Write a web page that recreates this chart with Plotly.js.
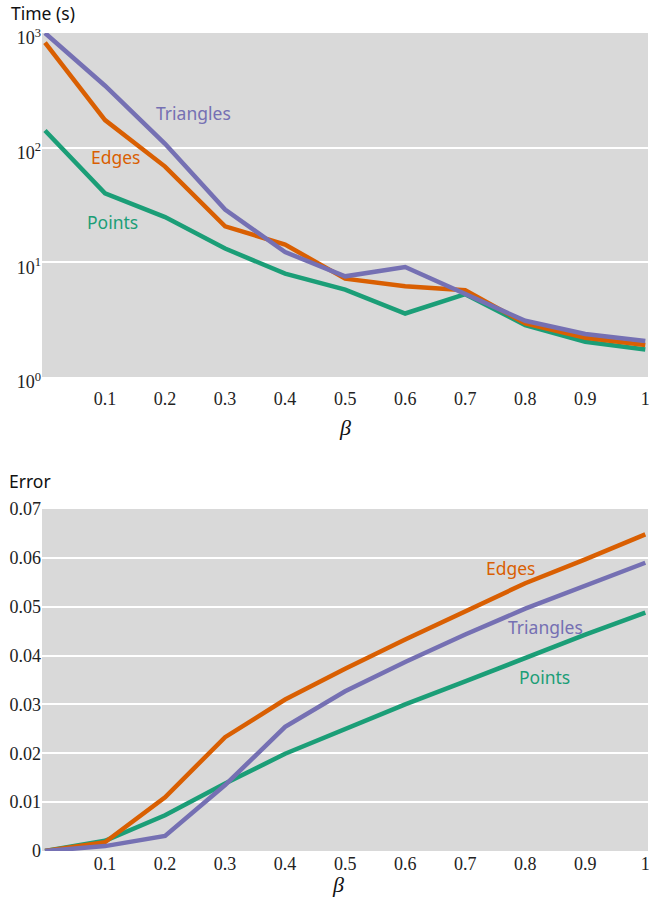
<!DOCTYPE html>
<html>
<head>
<meta charset="utf-8">
<script src="https://cdn.plot.ly/plotly-3.0.1.min.js"></script>
<style>html,body{margin:0;padding:0;background:#fff;}#chart{width:649px;height:901px;}</style>
</head>
<body>
<div id="chart"></div>
<script>
// ---- data ----
const beta = [0, 0.1, 0.2, 0.3, 0.4, 0.5, 0.6, 0.7, 0.8, 0.9, 1.0];

const timePoints    = [141, 40, 24.8, 13.2, 7.97, 5.79, 3.58, 5.27, 2.83, 2.03, 1.74];
const timeEdges     = [824, 174, 68.4, 20.6, 14.3, 7.2, 6.18, 5.71, 2.93, 2.2, 1.9];
const timeTriangles = [1000, 347, 108, 28.9, 12.3, 7.55, 9.1, 5.35, 3.09, 2.37, 2.06];

const errPoints    = [0, 0.0021, 0.0073, 0.0138, 0.0199, 0.025, 0.0300, 0.0347, 0.0396, 0.0443, 0.0488];
const errEdges     = [0, 0.0018, 0.011, 0.0233, 0.031, 0.0373, 0.0433, 0.0490, 0.0548, 0.0597, 0.0648];
const errTriangles = [0, 0.001, 0.0031, 0.0135, 0.0254, 0.0327, 0.0387, 0.0443, 0.0496, 0.0543, 0.059];

const xTickVals = [0.1, 0.2, 0.3, 0.4, 0.5, 0.6, 0.7, 0.8, 0.9, 1];
const xTickText = ['0.1', '0.2', '0.3', '0.4', '0.5', '0.6', '0.7', '0.8', '0.9', '1'];
const timeTickVals = [1, 10, 100, 1000];
const timeTickText = ['10<sup>0</sup>', '10<sup>1</sup>', '10<sup>2</sup>', '10<sup>3</sup>'];
const errTickVals = [0, 0.01, 0.02, 0.03, 0.04, 0.05, 0.06, 0.07];
const errTickText = ['0', '0.01', '0.02', '0.03', '0.04', '0.05', '0.06', '0.07'];

const seriesNames = ['Points', 'Edges', 'Triangles'];
const colors = {Points: '#1b9e77', Edges: '#d95f02', Triangles: '#7570b3'};

// ---- traces ----
const timeData = {Points: timePoints, Edges: timeEdges, Triangles: timeTriangles};
const errData = {Points: errPoints, Edges: errEdges, Triangles: errTriangles};
const traces = [];
seriesNames.forEach(n => {
  traces.push({x: beta, y: timeData[n], xaxis: 'x', yaxis: 'y', mode: 'lines',
    line: {color: colors[n], width: 4.5}, name: n, showlegend: false, hoverinfo: 'skip'});
});
seriesNames.forEach(n => {
  traces.push({x: beta, y: errData[n], xaxis: 'x2', yaxis: 'y2', mode: 'lines',
    line: {color: colors[n], width: 4.5}, name: n, showlegend: false, hoverinfo: 'skip'});
});

const serif = 'Liberation Serif, serif';
const sans = 'Noto Sans, sans-serif';
const tickFont = {family: serif, size: 18, color: '#222'};

const H = 901, mt = 33, mb = 50;
const ph = H - mt - mb;
function fy(px) { return (H - mb - px) / ph; }

const xCommon = {
  range: [-0.005, 1.0045], tickmode: 'array', tickvals: xTickVals, ticktext: xTickText,
  showgrid: false, zeroline: false, showline: false, ticks: '', tickfont: tickFont,
  ticklabeloverflow: 'allow'
};

const layout = {
  width: 649, height: 901,
  margin: {l: 42, r: 1, t: mt, b: mb},
  paper_bgcolor: '#ffffff',
  plot_bgcolor: '#d9d9d9',
  showlegend: false,
  xaxis: Object.assign({}, xCommon, {anchor: 'y', domain: [0, 1], ticklabelstandoff: 9}),
  yaxis: {type: 'log', range: [0, 3], domain: [fy(377), 1], anchor: 'x',
    tickmode: 'array', tickvals: timeTickVals, ticktext: timeTickText,
    showgrid: true, gridcolor: '#ffffff', gridwidth: 2, zeroline: false, showline: false,
    ticks: '', tickfont: tickFont, ticklabelshift: 5, ticklabeloverflow: 'allow'},
  xaxis2: Object.assign({}, xCommon, {anchor: 'y2', domain: [0, 1], ticklabelstandoff: 0}),
  yaxis2: {range: [0, 0.07], domain: [0, fy(509)], anchor: 'x2',
    tickmode: 'array', tickvals: errTickVals, ticktext: errTickText,
    showgrid: true, gridcolor: '#ffffff', gridwidth: 2, zeroline: false, showline: false,
    ticks: '', tickfont: tickFont, ticklabeloverflow: 'allow'},
  annotations: [
    {text: 'Time (s)', xref: 'paper', yref: 'paper', x: -42/606 + 9/606, y: fy(13), xanchor: 'left', yanchor: 'middle',
     showarrow: false, font: {family: sans, size: 17.5, color: '#111'}},
    {text: 'Error', xref: 'paper', yref: 'paper', x: -42/606 + 7/606, y: fy(481), xanchor: 'left', yanchor: 'middle',
     showarrow: false, font: {family: sans, size: 17.5, color: '#111'}},
    {text: '<i>β</i>', xref: 'x', yref: 'paper', x: 0.5, y: fy(427), xanchor: 'center', yanchor: 'middle',
     showarrow: false, font: {family: serif, size: 22, color: '#111'}},
    {text: '<i>β</i>', xref: 'x2', yref: 'paper', x: 0.488, y: fy(884), xanchor: 'center', yanchor: 'middle',
     showarrow: false, font: {family: serif, size: 22, color: '#111'}},
    {text: 'Triangles', xref: 'x', yref: 'y', x: 0.247, y: 2.30, showarrow: false,
     font: {family: sans, size: 17.5, color: colors.Triangles}},
    {text: 'Edges', xref: 'x', yref: 'y', x: 0.118, y: 1.92, showarrow: false,
     font: {family: sans, size: 17.5, color: colors.Edges}},
    {text: 'Points', xref: 'x', yref: 'y', x: 0.113, y: 1.35, showarrow: false,
     font: {family: sans, size: 17.5, color: colors.Points}},
    {text: 'Edges', xref: 'x2', yref: 'y2', x: 0.777, y: 0.0579, showarrow: false,
     font: {family: sans, size: 17.5, color: colors.Edges}},
    {text: 'Triangles', xref: 'x2', yref: 'y2', x: 0.833, y: 0.0458, showarrow: false,
     font: {family: sans, size: 17.5, color: colors.Triangles}},
    {text: 'Points', xref: 'x2', yref: 'y2', x: 0.8325, y: 0.0356, showarrow: false,
     font: {family: sans, size: 17.5, color: colors.Points}}
  ]
};

Plotly.newPlot('chart', traces, layout, {staticPlot: true, displayModeBar: false});
</script>
</body>
</html>
